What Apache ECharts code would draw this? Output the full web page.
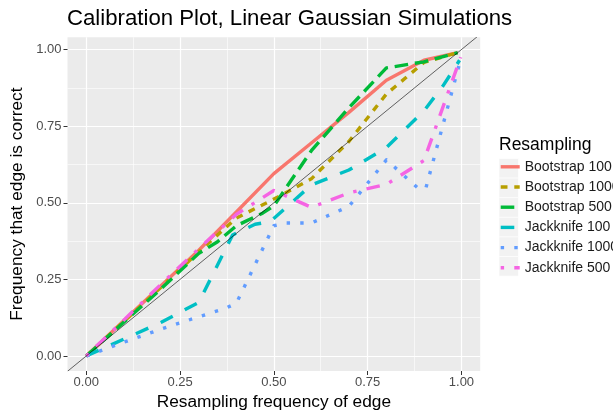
<!DOCTYPE html>
<html>
<head>
<meta charset="utf-8">
<script src="https://cdn.jsdelivr.net/npm/echarts@6/dist/echarts.min.js"></script>
<style>
  html, body { margin: 0; padding: 0; background: #fff; }
  #chart { width: 613px; height: 416px; }
</style>
</head>
<body>
<div id="chart"></div>
<script>
// [resampling frequency, frequency correct]
const bootstrap100 = [[0, 0], [0.1, 0.115], [0.2, 0.23], [0.3, 0.345], [0.4, 0.47], [0.5, 0.595], [0.6, 0.695], [0.7, 0.795], [0.8, 0.9], [0.9, 0.965], [0.99, 0.99]]
const bootstrap1000 = [[0, 0], [0.1, 0.112], [0.2, 0.225], [0.3, 0.34], [0.4, 0.45], [0.5, 0.512], [0.6, 0.578], [0.7, 0.7], [0.8, 0.855], [0.9, 0.958], [0.99, 0.99]]
const bootstrap500 = [[0, 0], [0.1, 0.11], [0.2, 0.22], [0.3, 0.335], [0.35, 0.373], [0.4, 0.425], [0.47, 0.466], [0.5, 0.49], [0.6, 0.67], [0.7, 0.81], [0.8, 0.94], [0.9, 0.96], [0.99, 0.99]]
const jackknife100 = [[0, 0], [0.1, 0.055], [0.2, 0.11], [0.3, 0.175], [0.39, 0.395], [0.45, 0.43], [0.49, 0.438], [0.6, 0.558], [0.7, 0.607], [0.8, 0.68], [0.9, 0.8], [0.95, 0.88], [0.995, 0.965]]
const jackknife1000 = [[0, 0], [0.1, 0.045], [0.2, 0.088], [0.3, 0.128], [0.37, 0.155], [0.4, 0.172], [0.5, 0.425], [0.53, 0.434], [0.6, 0.434], [0.7, 0.488], [0.8, 0.64], [0.885, 0.547], [0.905, 0.547], [0.995, 0.955]]
const jackknife500 = [[0, 0], [0.1, 0.117], [0.2, 0.235], [0.3, 0.35], [0.4, 0.462], [0.5, 0.54], [0.6, 0.485], [0.7, 0.532], [0.8, 0.56], [0.9, 0.638], [0.998, 0.975]]
const diagonal = [[-0.05, -0.05], [1.05, 1.05]]

const seriesNames = ['Bootstrap 100', 'Bootstrap 1000', 'Bootstrap 500', 'Jackknife 100', 'Jackknife 1000', 'Jackknife 500']
const majorTicks = [0, 0.25, 0.5, 0.75, 1]
const minorTicks = [0.125, 0.375, 0.625, 0.875]

const FONT = "'Liberation Sans', Arial, sans-serif"
const LW = 3.4

const chart = echarts.init(document.getElementById('chart'), null, { renderer: 'canvas' })

function lineSeries(name, data, color, dash) {
  return {
    name: name,
    type: 'line',
    xAxisIndex: 0,
    yAxisIndex: 0,
    data: data,
    symbol: 'none',
    lineStyle: { color: color, width: LW, type: dash, cap: 'butt', join: 'round' },
    itemStyle: { color: color },
    z: 3
  }
}

// legend key backgrounds (grey95 with white border, like ggplot)
const keyRects = seriesNames.map((n, i) => ({
  type: 'rect',
  shape: { x: 499, y: 158.5 + i * 19.6, width: 19.5, height: 19.6 },
  style: { fill: '#F2F2F2', stroke: '#fff', lineWidth: 0.6 },
  z: -1
}))

const option = {
  animation: false,
  backgroundColor: '#fff',
  textStyle: { fontFamily: FONT },
  title: [
    {
      text: 'Calibration Plot, Linear Gaussian Simulations',
      left: 67,
      top: 8,
      padding: 0,
      textStyle: { fontFamily: FONT, fontSize: 22.2, fontWeight: 'normal', color: '#000' }
    },
    {
      text: 'Resampling',
      left: 499,
      top: 136,
      padding: 0,
      textStyle: { fontFamily: FONT, fontSize: 17.5, fontWeight: 'normal', color: '#000' }
    }
  ],
  graphic: keyRects,
  legend: {
    data: seriesNames,
    orient: 'vertical',
    left: 499,
    top: 159.8,
    padding: 0,
    itemWidth: 19,
    itemHeight: 17,
    itemGap: 6.2,
    selectedMode: false,
    itemStyle: { color: 'transparent', borderWidth: 0, opacity: 0 },
    lineStyle: { width: LW },
    textStyle: { fontFamily: FONT, fontSize: 14, color: '#1A1A1A' }
  },
  grid: {
    left: 67.5,
    right: 132.8,
    top: 37.3,
    bottom: 39.5,
    show: true,
    backgroundColor: '#EBEBEB',
    borderWidth: 0
  },
  xAxis: [
    {
      type: 'value',
      min: -0.05,
      max: 1.05,
      name: 'Resampling frequency of edge',
      nameLocation: 'middle',
      nameGap: 23,
      nameTextStyle: { fontFamily: FONT, fontSize: 17.3, color: '#000' },
      axisLine: { show: false, onZero: false },
      axisTick: { show: true, length: 4, customValues: majorTicks, lineStyle: { color: '#333', width: 1 } },
      axisLabel: {
        customValues: majorTicks,
        margin: 5,
        fontFamily: FONT,
        fontSize: 13,
        color: '#4D4D4D',
        formatter: v => v.toFixed(2)
      },
      splitLine: { show: true, lineStyle: { color: '#fff', width: 1.2 } }
    },
    {
      type: 'value',
      min: -0.05,
      max: 1.05,
      position: 'bottom',
      axisLine: { show: false, onZero: false },
      axisTick: { show: false, customValues: minorTicks },
      axisLabel: { show: false, customValues: minorTicks },
      splitLine: { show: true, lineStyle: { color: '#fff', width: 0.6 } }
    }
  ],
  yAxis: [
    {
      type: 'value',
      min: -0.049,
      max: 1.04,
      name: 'Frequency that edge is correct',
      nameLocation: 'middle',
      nameGap: 37,
      nameTextStyle: { fontFamily: FONT, fontSize: 17.3, color: '#000' },
      axisLine: { show: false, onZero: false },
      axisTick: { show: true, length: 4, customValues: majorTicks, lineStyle: { color: '#333', width: 1 } },
      axisLabel: {
        customValues: majorTicks,
        margin: 6,
        fontFamily: FONT,
        fontSize: 13,
        color: '#4D4D4D',
        formatter: v => v.toFixed(2)
      },
      splitLine: { show: true, lineStyle: { color: '#fff', width: 1.2 } }
    },
    {
      type: 'value',
      min: -0.049,
      max: 1.04,
      position: 'left',
      axisLine: { show: false, onZero: false },
      axisTick: { show: false, customValues: minorTicks },
      axisLabel: { show: false, customValues: minorTicks },
      splitLine: { show: true, lineStyle: { color: '#fff', width: 0.6 } }
    }
  ],
  series: [
    lineSeries('Bootstrap 100', bootstrap100, '#F8766D', 'solid'),
    lineSeries('Bootstrap 1000', bootstrap1000, '#B79F00', [LW * 2, LW * 2]),
    lineSeries('Bootstrap 500', bootstrap500, '#00BA38', [LW * 4, LW * 2]),
    lineSeries('Jackknife 100', jackknife100, '#00BFC4', [LW * 4, LW * 4]),
    lineSeries('Jackknife 1000', jackknife1000, '#619CFF', [LW, LW * 3]),
    lineSeries('Jackknife 500', jackknife500, '#F564E3', [LW, LW * 3, LW * 4, LW * 3]),
    {
      name: 'diagonal',
      type: 'line',
      data: diagonal,
      symbol: 'none',
      silent: true,
      lineStyle: { color: '#000', width: 0.6 },
      z: 4
    }
  ]
}

chart.setOption(option)
</script>
</body>
</html>
